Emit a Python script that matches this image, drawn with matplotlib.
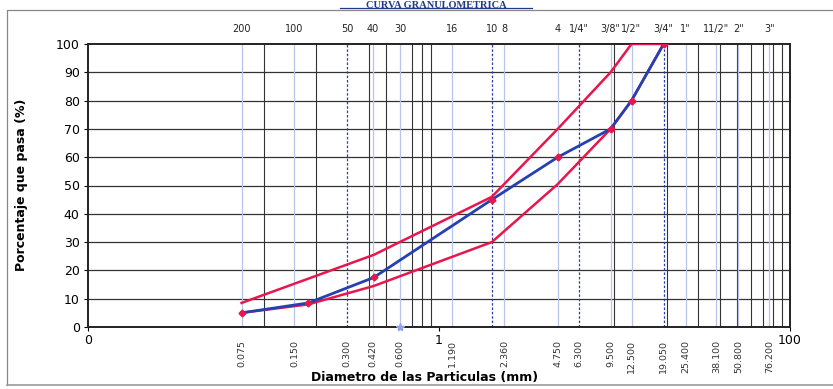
import matplotlib
matplotlib.use("Agg")
import matplotlib.pyplot as plt
import matplotlib.transforms as mtransforms
from matplotlib.lines import Line2D

# ---- data ----
sizes_mm = [0.075, 0.18, 0.425, 2.0, 4.75, 9.5, 12.5, 19.05]
pass_sample = [5, 8.5, 17.5, 45, 60, 70, 80, 100]
upper_sizes = [0.075, 0.425, 2.0, 4.75, 9.5, 12.5, 19.05]
upper_limit = [8.5, 25.5, 46, 70, 90, 100, 100]
lower_sizes = [0.075, 0.18, 0.425, 2.0, 4.75, 9.5, 12.5, 19.05]
lower_limit = [5, 8, 14.5, 30, 50.5, 70, 80, 100]

bottom_labels = ["0.075", "0.150", "0.300", "0.420", "0.600", "1.190", "2.360",
                 "4.750", "6.300", "9.500", "12.500", "19.050", "25.400",
                 "38.100", "50.800", "76.200"]
top_values = [0.075, 0.15, 0.3, 0.42, 0.6, 1.19, 2.0, 2.36, 4.75, 6.3, 9.5,
              12.5, 19.05, 25.4, 38.1, 50.8, 76.2]
top_labels = ["200", "100", "50", "40", "30", "16", "10", "8", "4", "1/4\"",
              "3/8\"", "1/2\"", "3/4\"", "1\"", "11/2\"", "2\"", "3\""]
light_lines = [0.075, 0.15, 0.42, 0.6, 1.19, 2.36, 4.75, 9.5, 12.5, 25.4,
               38.1, 50.8, 76.2]
dashed_lines = [0.3, 2.0, 6.3, 19.05]
black_lines = [0.1, 0.2, 0.4, 0.5, 0.7, 0.8, 0.9, 10, 20, 30, 40, 50, 60,
               70, 80, 90]

W, H = 833, 389
fig = plt.figure(figsize=(W / 100, H / 100), dpi=100)
ax = fig.add_axes([88 / W, 1 - 327 / H, (790 - 88) / W, (327 - 44) / H])

ax.set_xscale("log")
ax.set_xlim(0.01, 100)
ax.set_ylim(0, 100)

# grid
for v in range(10, 100, 10):
    ax.axhline(v, color="#333333", lw=0.9, zorder=1)
for v in black_lines:
    ax.axvline(v, color="#333333", lw=0.8, zorder=1)
for v in light_lines:
    ax.axvline(v, color="#b8c4ea", lw=0.9, zorder=1)
for v in dashed_lines:
    ax.axvline(v, color="#2a3fa8", lw=0.9, ls=(0, (2, 1.5)), zorder=1)

# curves
ax.plot(upper_sizes, upper_limit, color="#e8164c", lw=1.8, zorder=3)
ax.plot(lower_sizes, lower_limit, color="#e8164c", lw=1.8, zorder=3)
ax.plot(sizes_mm, pass_sample, color="#2540b0", lw=2.0, zorder=4,
        marker="D", markersize=3.5, markerfacecolor="#e8164c",
        markeredgecolor="#e8164c")
ax.plot([0.6], [0], marker="*", color="#8fa3e8", markersize=6,
        clip_on=False, zorder=5)

# axes styling
for s in ax.spines.values():
    s.set_linewidth(1.4)
    s.set_color("#222222")
ax.set_yticks(range(0, 101, 10))
ax.tick_params(axis="y", labelsize=9, length=3, width=0.8, pad=3)
ax.set_xticks([0.01, 1, 100])
ax.set_xticklabels(["0", "1", "100"])
ax.xaxis.set_minor_locator(matplotlib.ticker.NullLocator())
ax.tick_params(axis="x", labelsize=9, length=3, width=0.8, pad=2)

trans = mtransforms.blended_transform_factory(ax.transData, ax.transAxes)
bottom_vals = [float(s) for s in bottom_labels]
for v, s in zip(bottom_vals, bottom_labels):
    ax.text(v, -0.045, s, transform=trans, rotation=90, ha="center",
            va="top", fontsize=6.8, color="#333333")
for v, s in zip(top_values, top_labels):
    ax.text(v, 1.035, s, transform=trans, ha="center", va="bottom",
            fontsize=7, color="#222222")

fig.text(425 / W, 1 - 377 / H, "Diametro de las Particulas (mm)",
         ha="center", va="center", fontsize=9, fontweight="bold")
fig.text(22 / W, 1 - 185 / H, "Porcentaje que pasa (%)", rotation=90,
         ha="center", va="center", fontsize=9, fontweight="bold")

# title
fig.text(436 / W, 1 - 0.5 / H, "CURVA GRANULOMETRICA", ha="center",
         va="top", fontsize=7.5, fontweight="bold", family="Liberation Serif",
         color="#1f3a8a")
fig.add_artist(Line2D([340 / W, 532 / W], [1 - 8 / H, 1 - 8 / H],
                      color="#1f3a8a", lw=0.9))

# outer frame of the scanned sheet
fig.add_artist(Line2D([7 / W, 7 / W, 833 / W], [1 - 385 / H, 1 - 10 / H, 1 - 10 / H],
                      color="#888888", lw=0.9))
fig.add_artist(Line2D([7 / W, 833 / W], [1 - 385 / H, 1 - 385 / H],
                      color="#999999", lw=1.2))

fig.savefig("out.png", dpi=100, facecolor="white")
